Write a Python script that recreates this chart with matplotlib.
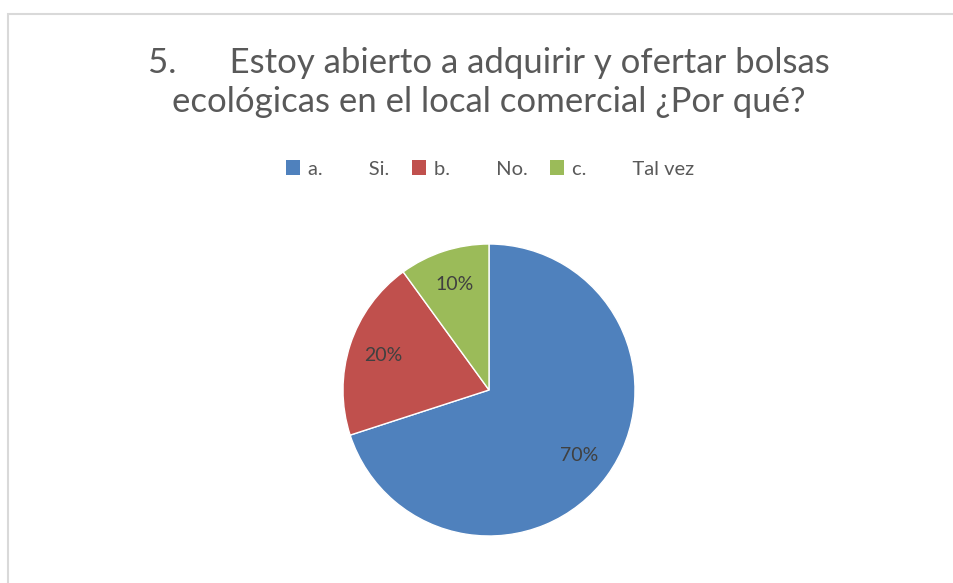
import matplotlib.pyplot as plt
from matplotlib.patches import Patch, Rectangle

# data
categories = ["a.         Si.", "b.         No.", "c.         Tal vez"]
shares = [70, 20, 10]
colors = ["#4F81BD", "#C0504D", "#9BBB59"]
title = "5.      Estoy abierto a adquirir y ofertar bolsas\necológicas en el local comercial ¿Por qué?"

plt.rcParams['font.family'] = ['Lato', 'DejaVu Sans']

W, H = 954, 583
fig = plt.figure(figsize=(W / 100, H / 100), dpi=100)

# light grey chart border (cropped at right / bottom)
fig.patches.append(Rectangle((8.5 / W, -0.1), 1.2, (H - 14.5) / H + 0.1,
                             transform=fig.transFigure, fill=False,
                             edgecolor="#d9d9d9", linewidth=1.5))

fig.text(489 / W, 1 - 82.5 / H, title, ha="center", va="center",
         fontsize=25, color="#595959", linespacing=1.28)

# pie
cx, cy, r = 489, H - 390, 146
ax = fig.add_axes([(cx - r) / W, (cy - r) / H, 2 * r / W, 2 * r / H])
wedges, texts, autotexts = ax.pie(
    shares, colors=colors, startangle=90, counterclock=False,
    autopct="%d%%", pctdistance=0.76,
    wedgeprops=dict(edgecolor="white", linewidth=1),
    textprops=dict(color="#404040", fontsize=14))
ax.set_xlim(-1, 1)
ax.set_ylim(-1, 1)

handles = [Patch(facecolor=c) for c in colors]
fig.legend(handles, categories, loc="center", bbox_to_anchor=(490 / W, 1 - 169 / H),
           ncol=3, frameon=False, fontsize=14.5, labelcolor="#595959",
           handlelength=0.7, handleheight=0.7, handletextpad=0.4,
           columnspacing=1.1)

fig.savefig("out.png", dpi=100)
